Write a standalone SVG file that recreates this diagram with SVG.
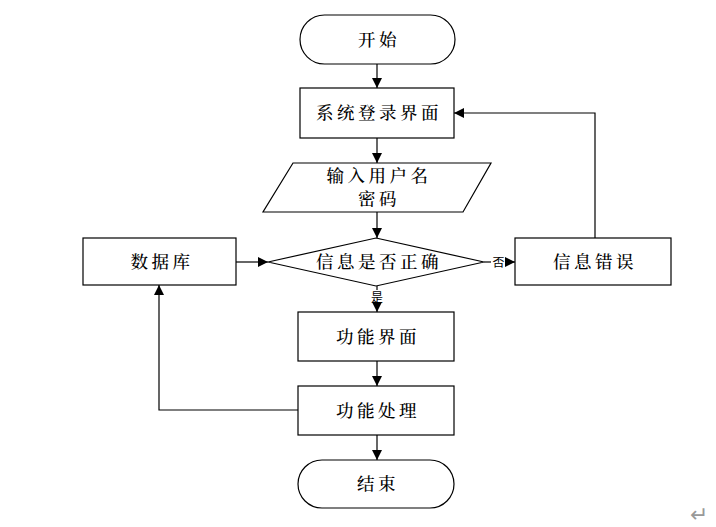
<svg xmlns="http://www.w3.org/2000/svg" width="716" height="527" viewBox="0 0 716 527">
<style>
.s{fill:#fff;stroke:#000;stroke-width:1.2}
.t{font-family:"Noto Serif CJK SC","Noto Sans CJK SC",serif;font-size:17.5px;font-weight:500;fill:#000;text-anchor:middle;letter-spacing:3.5px}
.l{font-family:"Noto Sans CJK SC",serif;font-size:12px;fill:#000;text-anchor:middle}
.c{fill:none;stroke:#000;stroke-width:1.2}
</style>
<defs>
<marker id="a" viewBox="0 0 10 10" refX="10" refY="5" markerWidth="10" markerHeight="10" markerUnits="userSpaceOnUse" orient="auto">
<path d="M0,0 L10,5 L0,10 Z" fill="#000"/>
</marker>
</defs>
<rect width="716" height="527" fill="#fff"/>
<g id="connectors">
<line class="c" x1="377" y1="64" x2="377" y2="88" marker-end="url(#a)"/>
<line class="c" x1="377" y1="138" x2="377" y2="163" marker-end="url(#a)"/>
<line class="c" x1="377" y1="212" x2="377" y2="238" marker-end="url(#a)"/>
<line class="c" x1="236" y1="262" x2="268" y2="262" marker-end="url(#a)"/>
<line class="c" x1="484" y1="262" x2="491" y2="262"/>
<line class="c" x1="506" y1="262" x2="515" y2="262" marker-end="url(#a)"/>
<polyline class="c" points="595,238 595,113 454,113" marker-end="url(#a)"/>
<line class="c" x1="377" y1="286" x2="377" y2="290"/>
<line class="c" x1="377" y1="304" x2="377" y2="312" marker-end="url(#a)"/>
<line class="c" x1="377" y1="361" x2="377" y2="386" marker-end="url(#a)"/>
<line class="c" x1="377" y1="435" x2="377" y2="460" marker-end="url(#a)"/>
<polyline class="c" points="298,410 159,410 159,285" marker-end="url(#a)"/>
<text class="l" x="498.5" y="266.5">否</text>
<text class="l" x="377" y="301.5">是</text>
</g>
<g id="start"><rect class="s" x="300" y="15" width="155" height="49" rx="24.5"/><text class="t" x="379" y="46">开始</text></g>
<g id="login"><rect class="s" x="300" y="88" width="154" height="50"/><text class="t" x="379" y="119">系统登录界面</text></g>
<g id="input"><polygon class="s" points="293,163 491,163 463,212 263,212"/><text class="t" x="379" y="182">输入用户名</text><text class="t" x="379" y="205">密码</text></g>
<g id="check"><polygon class="s" points="376,238 484,262 376,286 268,262"/><text class="t" x="379" y="268">信息是否正确</text></g>
<g id="db"><rect class="s" x="83" y="238" width="153" height="47"/><text class="t" x="162" y="268">数据库</text></g>
<g id="error"><rect class="s" x="515" y="238" width="156" height="47"/><text class="t" x="595" y="268">信息错误</text></g>
<g id="func"><rect class="s" x="298" y="312" width="156" height="49"/><text class="t" x="378" y="343">功能界面</text></g>
<g id="proc"><rect class="s" x="298" y="386" width="156" height="49"/><text class="t" x="378" y="417">功能处理</text></g>
<g id="end"><rect class="s" x="298" y="460" width="156" height="48" rx="24"/><text class="t" x="378" y="490">结束</text></g>
<text x="699" y="522" font-family="DejaVu Sans,sans-serif" font-size="22" fill="#999" text-anchor="middle">↵</text>
</svg>
